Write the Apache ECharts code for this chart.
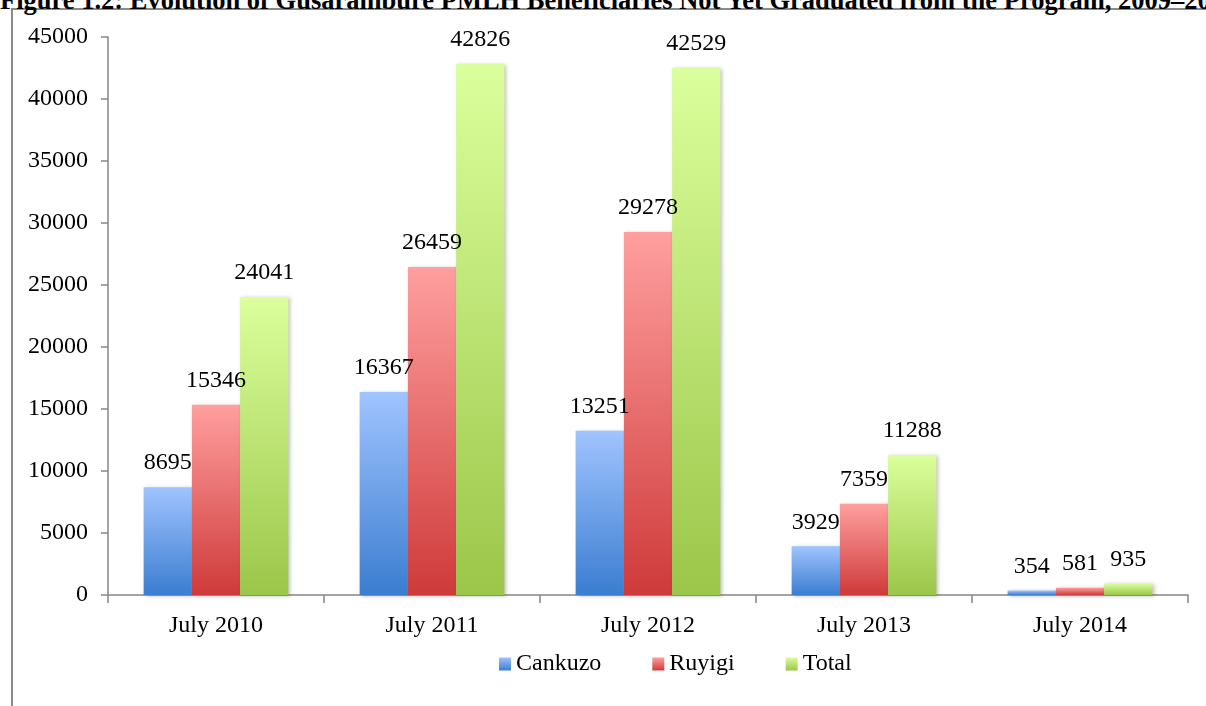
<!DOCTYPE html>
<html>
<head>
<meta charset="utf-8">
<script src="https://cdn.jsdelivr.net/npm/echarts@6/dist/echarts.min.js"></script>
<style>
  html, body { margin: 0; padding: 0; background: #fff; overflow: hidden; }
  #frame { position: absolute; left: 11px; top: 8px; width: 1300px; height: 800px;
           border-left: 2px solid #8a8a8a; border-top: 2px solid #8a8a8a; }
  #title { position: absolute; left: 0; top: -15px; line-height: 26px; white-space: nowrap;
           font: bold 26.5px "Times New Roman", "Liberation Serif", serif; color: #000; }
  #main { position: absolute; left: 0; top: 0; width: 1206px; height: 706px; }
</style>
</head>
<body>
<div id="frame"></div>
<div id="title">Figure 1.2: Evolution of Gusarambure PMLH Beneficiaries Not Yet Graduated from the Program, 2009–2014</div>
<div id="main"></div>
<script>
const categories = ["July 2010", "July 2011", "July 2012", "July 2013", "July 2014"];
const cankuzo = [8695, 16367, 13251, 3929, 354];
const ruyigi = [15346, 26459, 29278, 7359, 581];
const total = [24041, 42826, 42529, 11288, 935];
const yTicks = [0, 5000, 10000, 15000, 20000, 25000, 30000, 35000, 40000, 45000];

const serif = '"Times New Roman", "Liberation Serif", serif';

// gradient fills, light at top, darker at the base
const grad = (top, bottom) => new echarts.graphic.LinearGradient(0, 0, 0, 1, [
    { offset: 0, color: top },
    { offset: 1, color: bottom }
]);

const seriesDefs = [
    { name: "Cankuzo", data: cankuzo, top: "#a0c4ff", bottom: "#3b7dd0" },
    { name: "Ruyigi", data: ruyigi, top: "#ff9f9f", bottom: "#cf3a3a" },
    { name: "Total", data: total, top: "#dbff9c", bottom: "#9bc649" }
];

const myChart = echarts.init(document.getElementById("main"));

const option = {
    animation: false,
    grid: { left: 108, right: 18, top: 37, bottom: 111 },
    legend: {
        left: 494,
        top: 647,
        itemWidth: 12,
        itemHeight: 13,
        itemGap: 51,
        icon: "rect",
        textStyle: { fontFamily: serif, fontSize: 24, color: "#000" },
        data: seriesDefs.map(d => d.name)
    },
    xAxis: {
        type: "category",
        data: categories,
        axisLine: { lineStyle: { color: "#868686", width: 1.5 } },
        axisTick: { show: true, length: 8, lineStyle: { color: "#868686", width: 1.5 } },
        axisLabel: { fontFamily: serif, fontSize: 24, color: "#000", margin: 19 }
    },
    yAxis: {
        type: "value",
        min: yTicks[0],
        max: yTicks[yTicks.length - 1],
        interval: 5000,
        splitLine: { show: false },
        axisLine: { show: true, lineStyle: { color: "#868686", width: 1.5 } },
        axisTick: { show: true, length: 7, lineStyle: { color: "#868686", width: 1.5 } },
        axisLabel: { fontFamily: serif, fontSize: 24, color: "#000", margin: 20,
                     formatter: v => String(v) }
    },
    series: seriesDefs.map(d => ({
        name: d.name,
        type: "bar",
        data: d.data,
        barGap: "0%",
        barCategoryGap: "33%",
        itemStyle: {
            color: grad(d.top, d.bottom),
            shadowColor: "rgba(0,0,0,0.25)",
            shadowBlur: 4,
            shadowOffsetX: 2,
            shadowOffsetY: 1
        },
        label: {
            show: true,
            position: "top",
            distance: 12,
            fontFamily: serif,
            fontSize: 24,
            color: "#000"
        }
    }))
};

myChart.setOption(option);
</script>
</body>
</html>
